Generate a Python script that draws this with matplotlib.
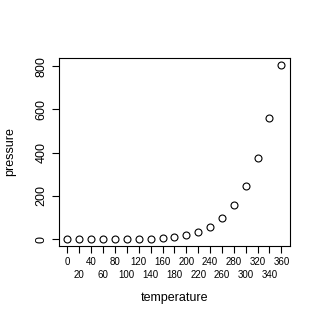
import matplotlib
matplotlib.use("Agg")
import matplotlib.pyplot as plt

temperature = [0, 20, 40, 60, 80, 100, 120, 140, 160, 180, 200, 220, 240, 260, 280, 300, 320, 340, 360]
pressure = [0.0002, 0.0012, 0.006, 0.03, 0.09, 0.27, 0.75, 1.85, 4.2, 8.8, 17.3, 32.1,
            57.0, 96.0, 157.0, 247.0, 376.0, 558.0, 806.0]
y_ticks = [0, 200, 400, 600, 800]

plt.rcParams['font.family'] = ['Liberation Sans', 'DejaVu Sans']

fig = plt.figure(figsize=(3.2, 3.2), dpi=100)
ax = fig.add_axes([0.184, 0.231, 0.722, 0.588])

ax.plot(temperature, pressure, linestyle='none', marker='o', markersize=5,
        markerfacecolor='none', markeredgecolor='black', markeredgewidth=0.8)

ax.set_xlim(-14.4, 374.4)
ax.set_ylim(-32.2, 838.2)

# R staggers the x labels over two rows: even ones on top, odd ones below
top_row = temperature[0::2]
low_row = temperature[1::2]
ax.set_xticks(top_row)
ax.set_xticklabels([str(t) for t in top_row], fontsize=7)
ax.set_xticks(low_row, minor=True)
ax.set_xticklabels([str(t) for t in low_row], minor=True, fontsize=7)

ax.set_yticks(y_ticks)
ax.set_yticklabels([str(v) for v in y_ticks], fontsize=9, rotation=90, va='center')

ax.tick_params(axis='x', which='major', length=5, width=0.8, pad=3, direction='out')
ax.tick_params(axis='x', which='minor', length=5, width=0.8, pad=12, direction='out')
ax.tick_params(axis='y', length=5, width=0.8, pad=3, direction='out')
for s in ax.spines.values():
    s.set_linewidth(0.8)

ax.set_xlabel("temperature", fontsize=9, labelpad=9)
ax.set_ylabel("pressure", fontsize=9, labelpad=14)

fig.savefig("out.png", dpi=100)
